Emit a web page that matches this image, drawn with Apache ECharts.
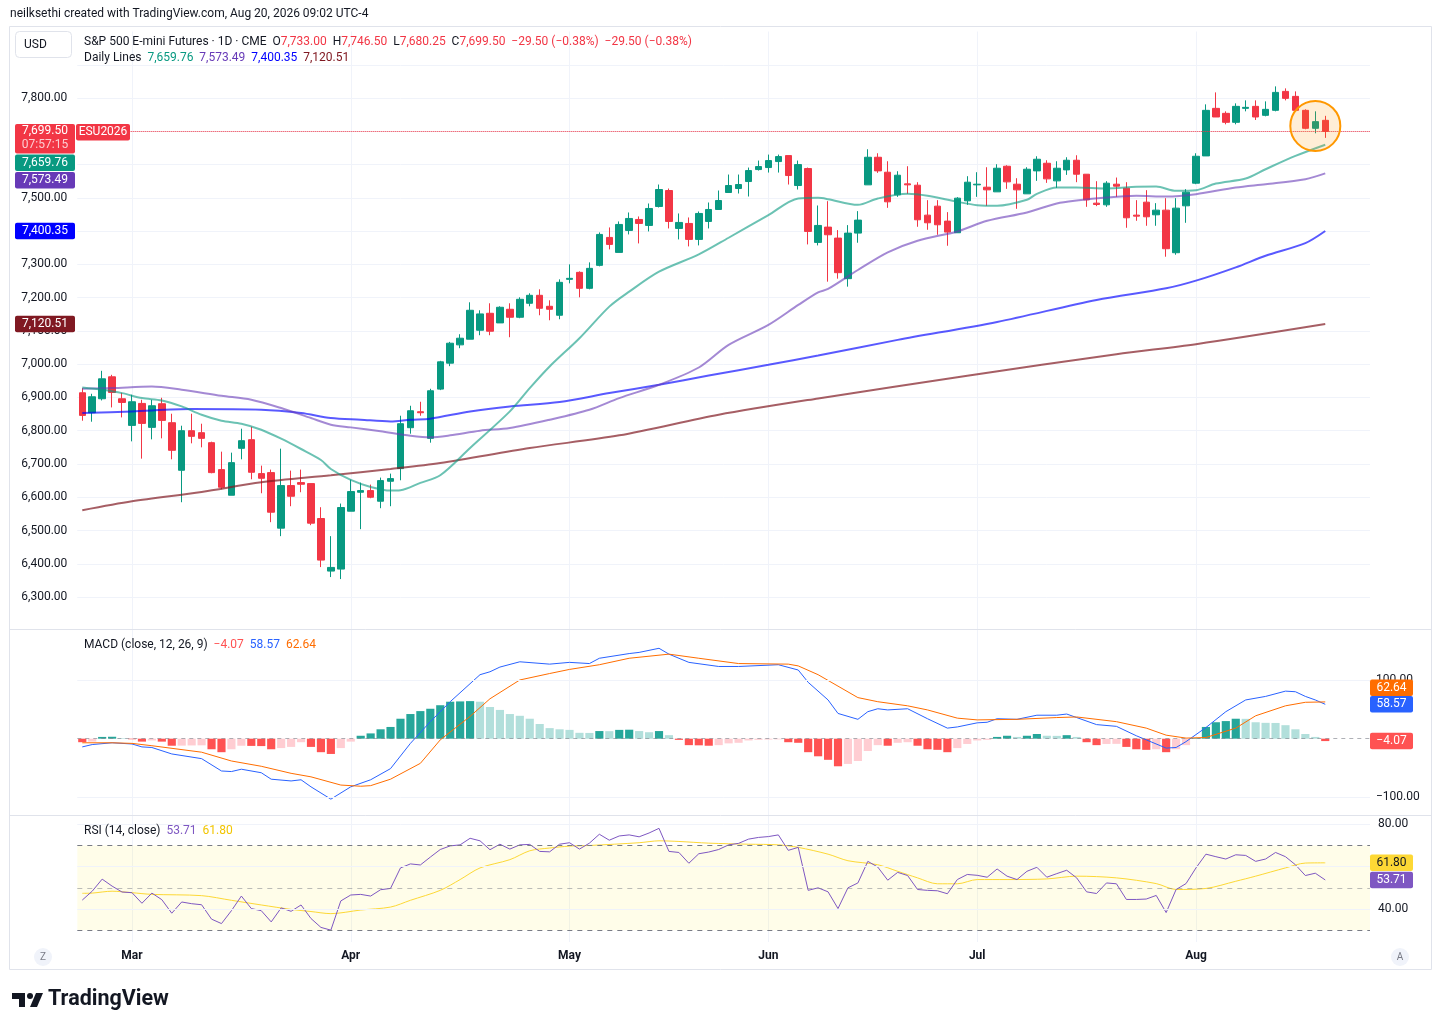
<!DOCTYPE html>
<html>
<head>
<meta charset="utf-8">
<title>ES1! daily</title>
<script src="https://cdn.jsdelivr.net/npm/echarts@6/dist/echarts.min.js"></script>
<style>
  html, body { margin: 0; padding: 0; background: #fff; }
  #chart { width: 1441px; height: 1030px; }
</style>
</head>
<body>
<div id="chart"></div>
<script>
// trading days, Feb 23 - Aug 20 2026
var holidays = ['2026-05-25', '2026-06-19', '2026-07-03'];
var dates = [];
for (var t = Date.UTC(2026, 1, 23); t <= Date.UTC(2026, 7, 20); t += 86400000) {
    var d = new Date(t);
    var s = d.toISOString().slice(0, 10);
    if (d.getUTCDay() === 0 || d.getUTCDay() === 6 || holidays.indexOf(s) >= 0) continue;
    dates.push(s);
}
var padSlots = ['p1', 'p2', 'p3', 'p4'];
var monthNames = ['Jan', 'Feb', 'Mar', 'Apr', 'May', 'Jun', 'Jul', 'Aug', 'Sep', 'Oct', 'Nov', 'Dec'];

var opens = [6914, 6854, 6896, 6962, 6896, 6816, 6882, 6810, 6881, 6824,
    6681, 6800, 6794, 6764, 6683, 6606, 6747, 6773, 6671, 6674,
    6507, 6635, 6644, 6641, 6536, 6378, 6384, 6558, 6615, 6620,
    6588, 6648, 6686, 6809, 6857, 6777, 6925, 7003, 7058, 7075,
    7102, 7153, 7124, 7165, 7141, 7183, 7207, 7174, 7147, 7255,
    7276, 7228, 7297, 7381, 7336, 7402, 7435, 7417, 7474, 7522,
    7408, 7423, 7375, 7429, 7465, 7516, 7528, 7549, 7585, 7591,
    7609, 7627, 7537, 7588, 7366, 7412, 7379, 7257, 7394, 7539,
    7622, 7577, 7509, 7542, 7538, 7448, 7475, 7430, 7395, 7491,
    7539, 7532, 7518, 7595, 7541, 7512, 7581, 7604, 7551, 7584,
    7613, 7571, 7484, 7479, 7541, 7529, 7448, 7487, 7449, 7463,
    7335, 7476, 7544, 7626, 7769, 7754, 7727, 7769, 7775, 7748,
    7763, 7820, 7805, 7763, 7709, 7733];
var highs = [6928, 6911, 6980, 6968, 6914, 6908, 6893, 6893, 6899, 6851,
    6815, 6851, 6821, 6767, 6737, 6734, 6806, 6812, 6695, 6683,
    6746, 6680, 6683, 6641, 6570, 6483, 6581, 6653, 6644, 6638,
    6659, 6671, 6845, 6875, 6887, 6926, 7010, 7067, 7090, 7186,
    7162, 7183, 7174, 7183, 7201, 7213, 7225, 7192, 7255, 7300,
    7279, 7306, 7396, 7411, 7429, 7456, 7444, 7483, 7540, 7528,
    7453, 7441, 7459, 7486, 7522, 7570, 7570, 7591, 7612, 7630,
    7630, 7627, 7612, 7591, 7477, 7490, 7403, 7418, 7460, 7646,
    7634, 7610, 7580, 7595, 7547, 7493, 7493, 7457, 7502, 7565,
    7577, 7592, 7601, 7598, 7559, 7592, 7625, 7613, 7610, 7622,
    7628, 7571, 7550, 7550, 7561, 7547, 7493, 7523, 7484, 7499,
    7499, 7526, 7634, 7781, 7817, 7760, 7784, 7793, 7793, 7790,
    7835, 7829, 7820, 7766, 7760, 7746.5];
var lows = [6830, 6827, 6891, 6870, 6840, 6768, 6716, 6774, 6777, 6714,
    6585, 6762, 6750, 6672, 6624, 6606, 6714, 6654, 6612, 6525,
    6483, 6573, 6615, 6516, 6390, 6360, 6354, 6558, 6504, 6597,
    6567, 6573, 6651, 6791, 6845, 6764, 6922, 6994, 7048, 7075,
    7087, 7087, 7124, 7081, 7138, 7174, 7147, 7132, 7135, 7243,
    7201, 7225, 7294, 7345, 7336, 7390, 7363, 7399, 7471, 7408,
    7375, 7354, 7357, 7408, 7465, 7516, 7513, 7504, 7582, 7576,
    7576, 7540, 7525, 7360, 7357, 7248, 7257, 7233, 7365, 7539,
    7575, 7470, 7503, 7512, 7413, 7404, 7389, 7356, 7395, 7479,
    7503, 7476, 7518, 7527, 7467, 7512, 7551, 7545, 7530, 7569,
    7547, 7473, 7475, 7473, 7503, 7410, 7431, 7416, 7416, 7323,
    7329, 7425, 7541, 7626, 7743, 7721, 7721, 7760, 7734, 7745,
    7760, 7793, 7763, 7706, 7694, 7680.25];
var closes = [6846, 6902, 6956, 6915, 6885, 6887, 6822, 6875, 6831, 6741,
    6800, 6783, 6777, 6674, 6630, 6704, 6770, 6675, 6657, 6555,
    6635, 6603, 6639, 6522, 6411, 6389, 6569, 6617, 6620, 6600,
    6650, 6656, 6821, 6860, 6854, 6920, 7007, 7063, 7078, 7162,
    7151, 7099, 7171, 7141, 7195, 7207, 7168, 7165, 7246, 7258,
    7228, 7288, 7390, 7360, 7420, 7438, 7423, 7468, 7525, 7429,
    7426, 7375, 7453, 7465, 7492, 7537, 7540, 7582, 7594, 7612,
    7624, 7567, 7600, 7399, 7417, 7389, 7275, 7394, 7433, 7622,
    7581, 7488, 7568, 7539, 7434, 7425, 7419, 7397, 7499, 7547,
    7541, 7524, 7589, 7548, 7524, 7586, 7616, 7557, 7589, 7613,
    7571, 7494, 7480, 7544, 7535, 7440, 7445, 7443, 7463, 7347,
    7469, 7517, 7625, 7763, 7743, 7727, 7775, 7772, 7743, 7766,
    7817, 7799, 7763, 7709, 7729, 7699.5];

// moving averages: [bar number (1 = Feb 23), value]
var ma20 = [[1, 6930], [3, 6923], [5, 6913], [7, 6898], [9, 6891], [11, 6873], [13, 6848], [15, 6830],
    [17, 6821], [19, 6803], [21, 6776], [23, 6745], [25, 6712], [26, 6685], [28, 6652], [30, 6631],
    [32, 6620], [33, 6621], [35, 6643], [37, 6666], [40, 6748], [44, 6858], [46, 6928], [48, 6993],
    [51, 7078], [54, 7173], [56, 7218], [59, 7278], [63, 7330], [66, 7380], [70, 7448], [73, 7498],
    [75, 7500], [76, 7496], [79, 7479], [81, 7498], [84, 7512], [86, 7506], [89, 7488], [91, 7478],
    [93, 7476], [96, 7494], [97, 7512], [99, 7531], [101, 7531], [104, 7528], [107, 7533], [109, 7534],
    [111, 7521], [113, 7523], [115, 7543], [118, 7558], [120, 7586], [123, 7626], [126, 7659.76]];
var ma50 = [[1, 6926], [4, 6928], [8, 6933], [11, 6923], [15, 6905], [18, 6893], [21, 6868], [24, 6838],
    [26, 6818], [28, 6810], [31, 6798], [34, 6785], [36, 6780], [38, 6786], [41, 6800], [44, 6808],
    [48, 6833], [52, 6863], [55, 6898], [59, 6938], [63, 6990], [66, 7058], [70, 7118], [73, 7178],
    [75, 7216], [76, 7226], [79, 7283], [82, 7336], [85, 7371], [89, 7399], [92, 7431], [96, 7456],
    [99, 7483], [101, 7492], [104, 7501], [107, 7506], [110, 7504], [113, 7511], [117, 7531],
    [120, 7541], [124, 7556], [126, 7573.49]];
var ma100 = [[1, 6853], [6, 6858], [12, 6865], [19, 6863], [23, 6853], [26, 6838], [29, 6833], [32, 6828],
    [34, 6833], [36, 6836], [40, 6858], [44, 6873], [49, 6886], [54, 6913], [59, 6938], [64, 6966],
    [70, 6998], [75, 7026], [83, 7073], [93, 7127], [103, 7193], [110, 7228], [113, 7251], [117, 7291],
    [120, 7326], [124, 7364], [126, 7400.35]];
var ma200 = [[1, 6561], [6, 6588], [13, 6616], [19, 6645], [26, 6666], [32, 6685], [37, 6703], [46, 6748],
    [55, 6786], [65, 6848], [75, 6897], [90, 6965], [105, 7030], [113, 7060], [126, 7120.51]];

var macdHist = [-6, -5, 3, 3.3, 1, -1, -5, -3, -5, -12,
    -11.8, -11.5, -11.3, -18, -23, -18, -12, -12.3, -12.6, -18,
    -16, -14, -6, -14, -23, -26, -16, -5, 5, 9,
    16, 20, 34, 42, 47, 51, 57, 63, 63.5, 64,
    63, 54, 49, 42, 39, 34, 25, 18, 16, 15,
    10, 9.8, 13, 12.8, 15, 15.3, 13, 11, 13, 6,
    -2, -11, -11.3, -12, -11, -8, -7, -3, -2, -1.5,
    -1.2, -6, -7, -23, -30, -36, -47, -43, -38, -21,
    -11, -12, -7, -6, -12, -18, -19, -23, -16, -9,
    -3, -2, 3, 5, 3, 5, 8, 5, 4.8, 6,
    3, -6, -11, -9, -8.8, -14, -18, -19, -18, -23,
    -18, -11, 1, 20, 28, 30, 34, 33.8, 28, 27,
    26.8, 23, 16, 8, 3, -4.07];
var macdLine = [[1, -14], [2, -10], [4, -7], [6, -9], [7, -14], [8, -15], [10, -26], [13, -34], [15, -55],
    [16, -56], [17, -52], [19, -58], [20, -69], [22, -72], [23, -70], [24, -82], [26, -103], [28, -82],
    [30, -70], [32, -51], [34, -8], [36, 29], [38, 63], [41, 109], [42, 114], [43, 122], [45, 131],
    [48, 127], [50, 130], [52, 128], [53, 137], [56, 145], [57, 147], [59, 154], [60, 144], [62, 130],
    [65, 123], [67, 123], [71, 126], [73, 117], [74, 96], [76, 66], [77, 43], [79, 33], [80, 46],
    [81, 51], [82, 49], [84, 51], [86, 34], [88, 18], [89, 20], [91, 27], [92, 28], [93, 34], [95, 33],
    [97, 40], [99, 40], [100, 42], [101, 36], [103, 24], [105, 21], [107, 5], [108, -2], [110, -16],
    [111, -15], [112, -5], [114, 19], [116, 46], [118, 66], [120, 72], [122, 81], [123, 80], [124, 72],
    [125, 66], [126, 58.57]];
var signalLine = [[1, -7], [4, -7], [6, -8], [8, -12], [13, -23], [16, -38], [19, -47], [22, -59], [24, -65],
    [27, -79], [29, -81], [30, -80], [32, -69], [35, -42], [37, -2], [40, 38], [42, 68], [45, 100],
    [48, 111], [50, 118], [53, 126], [56, 137], [60, 144], [63, 137], [67, 128], [72, 127], [73, 124],
    [75, 109], [79, 70], [81, 63], [84, 56], [86, 49], [89, 35], [91, 32], [95, 33], [99, 36], [101, 37],
    [105, 29], [108, 18], [110, 6], [112, 1], [114, 2], [117, 18], [119, 39], [122, 56], [124, 62],
    [126, 62.64]];

var rsi = [44.2, 48.4, 54.1, 50.8, 48, 47.7, 42.7, 47.5, 44.4, 38,
    43.3, 42.5, 42, 35.2, 33.1, 39.2, 46.1, 40.2, 39.2, 33.9,
    40.5, 38.9, 41.9, 35.5, 31.3, 30, 43.8, 46.6, 46.9, 46.1,
    49.1, 49.7, 59.4, 61.3, 60.8, 64.5, 68.1, 69.8, 70.3, 73.4,
    72.2, 68, 70.6, 68.3, 70.3, 70.5, 67.2, 67, 70.6, 71.3,
    68.3, 71.1, 75.3, 72.5, 74.5, 75, 74.1, 75.9, 78.1, 67.2,
    66.7, 61.6, 66.1, 66.9, 68.1, 70.3, 71, 73, 73.8, 74.2,
    75, 67.7, 69.1, 48.8, 50, 48.1, 40.2, 50, 52.3, 62.5,
    59.8, 53.6, 57.3, 55.8, 49.2, 48.8, 48.6, 47.2, 53.9, 56.3,
    55.9, 55, 58.9, 55.5, 53.9, 57.8, 59.7, 55, 56.7, 58.3,
    54.7, 48.1, 47.3, 52.3, 51.9, 44.5, 44.5, 44.7, 46.4, 38.3,
    49.2, 52, 59.4, 65.9, 64.7, 63.6, 65.6, 65.3, 62.5, 63.6,
    66.7, 64.7, 60.9, 55.8, 56.9, 53.71];
var rsiMa = [[1, 47.4], [2, 47.5], [4, 48.4], [6, 47.7], [8, 46.9], [13, 46.3], [16, 44.1], [19, 41.9],
    [22, 39.8], [24, 38.8], [26, 37.8], [29, 39.5], [32, 40.9], [34, 44.1], [37, 48.8], [39, 53.9],
    [41, 59.4], [44, 63.3], [46, 67.5], [48, 68.8], [50, 69.7], [52, 70], [57, 71.3], [59, 72.2],
    [61, 71.9], [64, 71.1], [68, 70.6], [71, 70.3], [73, 69.1], [76, 65.9], [78, 62.8], [81, 60.9],
    [83, 57.8], [85, 54.7], [87, 51.9], [89, 51.9], [91, 53.9], [94, 53.9], [98, 54.2], [101, 55.5],
    [105, 54.7], [109, 52], [111, 49.2], [114, 49.7], [117, 53.1], [119, 55.5], [122, 59.4],
    [124, 61.7], [126, 61.8]];

var priceTicks = [6300, 6400, 6500, 6600, 6700, 6800, 6900, 7000, 7100, 7200, 7300, 7400, 7500, 7600, 7700, 7800];
var macdTicks = [100, -100];
var rsiTicks = [80, 60, 40];

// ---------------------------------------------------------------
var FONT = 'Roboto, "Noto Sans", sans-serif';
var TXT = '#131722';
var GRID_C = '#f0f3fa';
var UP = '#089981', DOWN = '#f23645';

var cats = dates.concat(padSlots);
var last = dates.length - 1;

function isMonthStart(i) {
    return i > 0 && i < dates.length && dates[i].slice(5, 7) !== dates[i - 1].slice(5, 7);
}
function pts(arr) {
    return arr.map(function (p) { return [p[0] - 1, p[1]]; });
}
function fmt(v) {
    return v.toLocaleString('en-US', {minimumFractionDigits: 2, maximumFractionDigits: 2});
}
function sfmt(v) {
    return (v < 0 ? '\u2212' : '') + fmt(Math.abs(v));
}

var candles = opens.map(function (o, i) { return [o, closes[i], lows[i], highs[i]]; });
var histData = macdHist.map(function (h, i) {
    var prev = i > 0 ? macdHist[i - 1] : 0;
    var c = h >= 0 ? (h > prev ? '#26a69a' : '#b2dfdb') : (h > prev ? '#ffcdd2' : '#ff5252');
    return {value: h, itemStyle: {color: c}};
});

var L = 77.3, W = 1292.7;

function xAx(grid, showLabel) {
    return {
        type: 'category', gridIndex: grid, data: cats, boundaryGap: true,
        axisLine: {show: false}, axisTick: {show: false, alignWithLabel: true},
        splitLine: {
            show: true, alignWithLabel: true,
            interval: function (i) { return isMonthStart(i); },
            lineStyle: {color: GRID_C, width: 1}
        },
        axisLabel: {
            show: showLabel, interval: function (i) { return isMonthStart(i); },
            formatter: function (v) { return monthNames[+v.slice(5, 7) - 1]; },
            color: TXT, fontFamily: FONT, fontSize: 12, fontWeight: 'bold', margin: 8
        }
    };
}

function lineSeries(name, data, color, width, xi, smooth) {
    return {
        name: name, type: 'line', xAxisIndex: xi, yAxisIndex: xi, data: pts(data),
        showSymbol: false, symbol: 'none', smooth: smooth, silent: true,
        lineStyle: {color: color, width: width}, z: 3
    };
}

var option = {
    backgroundColor: '#fff',
    animation: false,
    grid: [
        {left: L, top: 31.5, width: W, height: 598.8},
        {left: L, top: 629.5, width: W, height: 185.5},
        {left: L, top: 815, width: W, height: 127}
    ],
    xAxis: [xAx(0, false), xAx(1, false), xAx(2, true)],
    yAxis: [
        {
            type: 'value', gridIndex: 0, position: 'left', min: 6200, max: 8000, interval: 100,
            axisLine: {show: false}, axisTick: {show: false},
            splitLine: {show: true, showMinLine: false, showMaxLine: false, lineStyle: {color: GRID_C}},
            axisLabel: {
                color: TXT, fontFamily: FONT, fontSize: 12, margin: 10,
                formatter: function (v) { return priceTicks.indexOf(v) >= 0 ? fmt(v) : ''; }
            }
        },
        {type: 'value', gridIndex: 1, min: -130, max: 186, show: false, splitLine: {show: false}},
        {type: 'value', gridIndex: 2, min: 24.4, max: 84.4, show: false, splitLine: {show: false}}
    ],
    series: [
        {
            name: 'ESU2026', type: 'candlestick', xAxisIndex: 0, yAxisIndex: 0, data: candles,
            barWidth: 7, silent: true,
            itemStyle: {color: UP, color0: DOWN, borderColor: UP, borderColor0: DOWN, borderWidth: 1},
            markLine: {
                silent: true, symbol: 'none', label: {show: false},
                lineStyle: {color: DOWN, type: 'dotted', width: 1},
                data: [{yAxis: closes[last]}]
            },
            z: 2
        },
        lineSeries('MA200', ma200, 'rgba(128,25,34,0.7)', 2, 0, 0.3),
        lineSeries('MA100', ma100, 'rgba(0,0,255,0.65)', 2, 0, 0.3),
        lineSeries('MA50', ma50, 'rgba(103,58,183,0.6)', 2, 0, 0.3),
        lineSeries('MA20', ma20, 'rgba(8,153,129,0.6)', 2, 0, 0.3),
        {
            name: 'Histogram', type: 'bar', xAxisIndex: 1, yAxisIndex: 1, data: histData,
            barWidth: '82%', silent: true,
            markLine: {
                silent: true, symbol: 'none',
                data: macdTicks.map(function (v) {
                    return {
                        yAxis: v, lineStyle: {color: GRID_C, type: 'solid', width: 1},
                        label: {show: true, position: 'end', distance: 6, formatter: sfmt(v),
                            color: TXT, fontFamily: FONT, fontSize: 12}
                    };
                }).concat([{yAxis: 0, lineStyle: {color: 'rgba(120,123,134,0.6)', type: [4, 4], width: 1},
                    label: {show: false}}])
            }
        },
        lineSeries('MACD', macdLine, '#2962ff', 1, 1, false),
        lineSeries('Signal', signalLine, '#ff6d00', 1, 1, false),
        {
            name: 'RSI', type: 'line', xAxisIndex: 2, yAxisIndex: 2, data: rsi,
            showSymbol: false, symbol: 'none', silent: true, z: 4,
            lineStyle: {color: '#7e57c2', width: 1},
            markArea: {
                silent: true, itemStyle: {color: 'rgba(255,235,59,0.11)'},
                data: [[{yAxis: 30}, {yAxis: 70}]]
            },
            markLine: {
                silent: true, symbol: 'none',
                data: rsiTicks.map(function (v) {
                    return {
                        yAxis: v, lineStyle: {color: GRID_C, type: 'solid', width: 1},
                        label: {show: v !== 60, position: 'end', distance: 8, formatter: fmt(v),
                            color: TXT, fontFamily: FONT, fontSize: 12}
                    };
                }).concat([
                    {yAxis: 70, lineStyle: {color: '#787b86', type: [5, 5], width: 1}, label: {show: false}},
                    {yAxis: 30, lineStyle: {color: '#787b86', type: [5, 5], width: 1}, label: {show: false}},
                    {yAxis: 50, lineStyle: {color: 'rgba(120,123,134,0.5)', type: [5, 5], width: 1}, label: {show: false}}
                ])
            }
        },
        lineSeries('RSI MA', rsiMa, '#fdd835', 1, 2, 0.3)
    ]
};

var chart = echarts.init(document.getElementById('chart'));
chart.setOption(option);

// ---------------------------------------------------------------
// overlay: header, legends, price tags, annotation
function txt(x, y, text, color, size, extra) {
    var st = {x: x, y: y, text: text, fill: color, font: (extra && extra.weight ? extra.weight + ' ' : '') + size + 'px ' + FONT,
        textVerticalAlign: 'middle', textAlign: (extra && extra.align) || 'left'};
    return {type: 'text', z: 110, silent: true, style: st};
}
function box(x, y, w, h, fill, r) {
    return {type: 'rect', z: 105, silent: true, shape: {x: x, y: y, width: w, height: h, r: r || 0}, style: {fill: fill}};
}
function hline(y, x1, x2, color) {
    return {type: 'line', z: 90, silent: true, shape: {x1: x1, y1: y, x2: x2, y2: y}, style: {stroke: color, lineWidth: 1}};
}

var g = [];
g.push(txt(10, 14, 'neilksethi created with TradingView.com, Aug 20, 2026 09:02 UTC-4', TXT, 12));
g.push({type: 'rect', z: 90, silent: true, shape: {x: 9.5, y: 26.5, width: 1422, height: 943},
    style: {fill: 'none', stroke: '#e0e3eb', lineWidth: 1}});
g.push(hline(629.5, 10, 1431, '#e0e3eb'));
g.push(hline(815.5, 10, 1431, '#e0e3eb'));

g.push({type: 'rect', z: 100, silent: true, shape: {x: 15.5, y: 31.5, width: 56, height: 26, r: 4},
    style: {fill: '#fff', stroke: '#e0e3eb', lineWidth: 1}});
g.push(txt(24, 44.5, 'USD', TXT, 12));

var o = opens[last], h = highs[last], lo = lows[last], c = closes[last];
var chg = c - closes[last - 1], pct = chg / closes[last - 1] * 100;
var chgText = sfmt(chg) + ' (' + sfmt(pct) + '%)';
g.push({type: 'text', z: 110, silent: true, style: {
    x: 84, y: 42, textVerticalAlign: 'middle',
    text: '{n|S&P 500 E-mini Futures \u00b7 1D \u00b7 CME  O}{r|' + fmt(o) + '}{n|  H}{r|' + fmt(h) +
        '}{n|  L}{r|' + fmt(lo) + '}{n|  C}{r|' + fmt(c) + '}{r|  ' + chgText + '  ' + chgText + '}',
    rich: {n: {fill: TXT, font: '12px ' + FONT}, r: {fill: DOWN, font: '12px ' + FONT}}
}});
var maLast = [ma20, ma50, ma100, ma200].map(function (a) { return a[a.length - 1][1]; });
g.push({type: 'text', z: 110, silent: true, style: {
    x: 84, y: 58, textVerticalAlign: 'middle',
    text: '{n|Daily Lines  }{a|' + fmt(maLast[0]) + '  }{b|' + fmt(maLast[1]) + '  }{c|' + fmt(maLast[2]) + '  }{d|' + fmt(maLast[3]) + '}',
    rich: {n: {fill: TXT, font: '12px ' + FONT}, a: {fill: UP, font: '12px ' + FONT}, b: {fill: '#673ab7', font: '12px ' + FONT},
        c: {fill: '#0000ff', font: '12px ' + FONT}, d: {fill: '#801922', font: '12px ' + FONT}}
}});

var hLast = macdHist[last], mLast = macdLine[macdLine.length - 1][1], sLast = signalLine[signalLine.length - 1][1];
g.push({type: 'text', z: 110, silent: true, style: {
    x: 84, y: 644.5, textVerticalAlign: 'middle',
    text: '{n|MACD (close, 12, 26, 9)  }{h|' + sfmt(hLast) + '  }{m|' + fmt(mLast) + '  }{s|' + fmt(sLast) + '}',
    rich: {n: {fill: TXT, font: '12px ' + FONT}, h: {fill: '#ff5252', font: '12px ' + FONT},
        m: {fill: '#2962ff', font: '12px ' + FONT}, s: {fill: '#ff6d00', font: '12px ' + FONT}}
}});
var rLast = rsi[last], rmLast = rsiMa[rsiMa.length - 1][1];
g.push({type: 'text', z: 110, silent: true, style: {
    x: 84, y: 830.5, textVerticalAlign: 'middle',
    text: '{n|RSI (14, close)  }{a|' + fmt(rLast) + '  }{b|' + fmt(rmLast) + '}',
    rich: {n: {fill: TXT, font: '12px ' + FONT}, a: {fill: '#7e57c2', font: '12px ' + FONT},
        b: {fill: '#f2c500', font: '12px ' + FONT}}
}});

// left price tags, pushed down when they overlap
var TH = 16.5;
var yPrice = chart.convertToPixel({yAxisIndex: 0}, c);
var top0 = yPrice - 7.5;
g.push(box(15, top0, 60, 29.5, DOWN, 2));
g.push(txt(45, top0 + 7.5, fmt(c), '#fff', 12, {align: 'center'}));
g.push(txt(45, top0 + 21.5, '07:57:15', 'rgba(255,255,255,0.75)', 12, {align: 'center'}));
g.push(box(76, top0, 54, TH, DOWN, 2));
g.push(txt(103, top0 + 8, 'ESU2026', '#fff', 12, {align: 'center'}));
var prevBottom = top0 + 29.5;
[[maLast[0], UP], [maLast[1], '#673ab7'], [maLast[2], '#0000ff'], [maLast[3], '#801922']].forEach(function (t) {
    var y = chart.convertToPixel({yAxisIndex: 0}, t[0]) - TH / 2;
    y = Math.max(y, prevBottom + 1);
    g.push(box(15, y, 60, TH, t[1], 2));
    g.push(txt(45, y + TH / 2, fmt(t[0]), '#fff', 12, {align: 'center'}));
    prevBottom = y + TH;
});

// right tags for MACD (pushed up) and RSI
function rightTags(list, axis) {
    var prevTop = 1e9;
    list.forEach(function (t) {
        var y = chart.convertToPixel({yAxisIndex: axis}, t[0]) - TH / 2;
        y = Math.min(y, prevTop - TH);
        g.push(box(1370, y, 43, TH, t[1], 2));
        g.push(txt(1391.5, y + TH / 2, t[3] ? sfmt(t[0]) : fmt(t[0]), t[2], 12, {align: 'center'}));
        prevTop = y;
    });
}
rightTags([[hLast, '#ff5252', '#fff', 1], [mLast, '#2962ff', '#fff'], [sLast, '#ff6d00', '#fff']], 1);
rightTags([[rLast, '#7e57c2', '#fff'], [rmLast, '#fdd835', TXT]], 2);

// highlight circle around the last few bars
var cp = chart.convertToPixel({gridIndex: 0}, [last - 1, 7716]);
g.push({type: 'circle', z: 100, silent: true, shape: {cx: cp[0], cy: cp[1], r: 25},
    style: {fill: 'rgba(255,152,0,0.16)', stroke: '#ff9800', lineWidth: 2}});

// Z / A buttons and logo
g.push({type: 'circle', z: 100, silent: true, shape: {cx: 43, cy: 957, r: 9}, style: {fill: '#f0f3fa'}});
g.push(txt(43, 957.5, 'Z', '#787b86', 10, {align: 'center'}));
g.push({type: 'circle', z: 100, silent: true, shape: {cx: 1400, cy: 957, r: 9}, style: {fill: '#f0f3fa'}});
g.push(txt(1400, 957.5, 'A', '#787b86', 10, {align: 'center'}));

g.push({type: 'polygon', z: 100, silent: true, shape: {points: [[12, 993], [25, 993], [25, 1007], [19, 1007], [19, 999], [12, 999]]},
    style: {fill: TXT}});
g.push({type: 'circle', z: 100, silent: true, shape: {cx: 30, cy: 996, r: 3}, style: {fill: TXT}});
g.push({type: 'polygon', z: 100, silent: true, shape: {points: [[36, 993], [43, 993], [37, 1007], [30, 1007]]},
    style: {fill: TXT}});
g.push(txt(48, 1000, 'TradingView', TXT, 21.5, {weight: 'bold'}));

chart.setOption({graphic: g});
</script>
</body>
</html>
